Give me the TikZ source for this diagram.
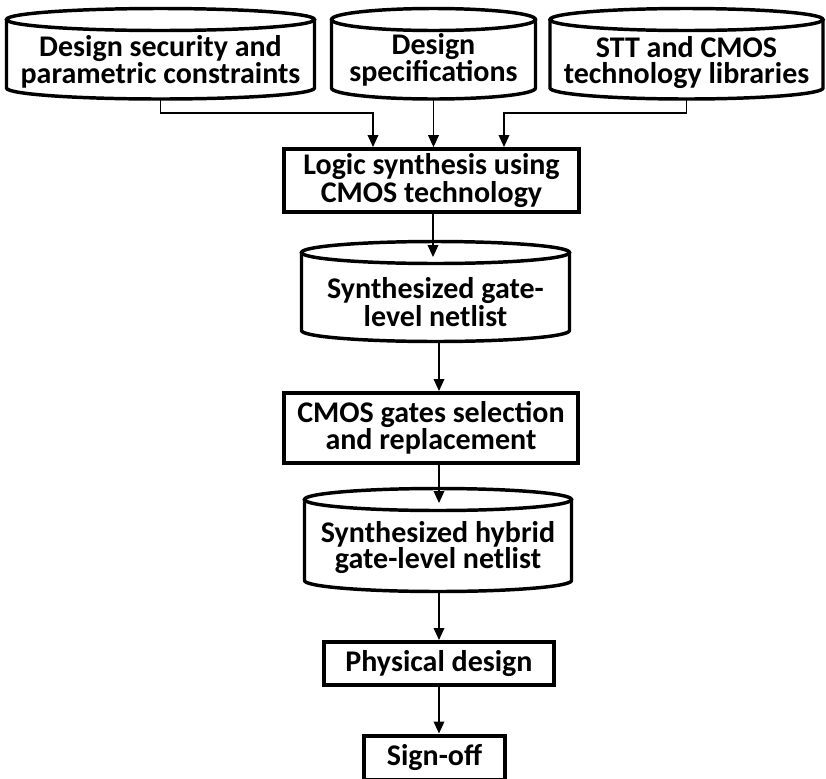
\documentclass[tikz,border=0pt]{standalone}
\usepackage{fontspec}
\setmainfont{Carlito}
\usetikzlibrary{arrows.meta}
\tikzset{
  txt/.style={align=center, inner sep=0pt, font=\bfseries\fontsize{22.5}{19.5}\selectfont},
  box/.style={txt, draw, line width=3pt, fill=white},
  cylline/.style={line width=2.6pt},
  conn/.style={line width=1.1pt, -{Triangle[length=9pt,width=8pt]}},
}
\newcommand\mycyl[6]{%
  \draw[cylline, fill=white] (#2-#5,#3) -- (#2-#5,#4)
     arc[start angle=180, end angle=0, x radius=#5, y radius=#6] -- (#2+#5,#3);
  \draw[cylline] (#2,#3) ellipse[x radius=#5, y radius=#6];
  \coordinate (#1top) at (#2,#3-#6);
  \coordinate (#1bot) at (#2,#4+#6);
}
\begin{document}
\begin{tikzpicture}[x=0.75pt, y=-0.75pt]
\useasboundingbox (0,0) rectangle (826,779);
\clip (0,0) rectangle (826,779);

% top cylinders
\mycyl{A}{160.5}{19.5}{88}{154}{11}
\mycyl{B}{433.5}{19.5}{88}{102}{11}
\mycyl{C}{686.5}{19.5}{88}{136.5}{11}
\node[txt] (a) at (160.5,62) {Design security and\\parametric constraints};
\node[txt] (b) at (433.5,60) {Design\\specifications};
\node[txt] (c) at (686.5,63) {STT and CMOS\\technology libraries};

% logic synthesis
\node[box, minimum width=221pt, minimum height=47pt] (l) at (431.5,180.5) {Logic synthesis using\\CMOS technology};

% cylinder D
\mycyl{D}{435.5}{252.5}{330.5}{134}{11}
\node[txt] (d) at (435.5,302) {Synthesized gate-\\level netlist};

% CMOS gates selection
\node[box, minimum width=220.5pt, minimum height=52.5pt] (s) at (431,428) {CMOS gates selection\\and replacement};

% cylinder E
\mycyl{E}{438}{499.5}{580.5}{133.5}{11}
\node[txt] (e) at (438,548) {Synthesized hybrid\\gate-level netlist};

% physical design
\node[box, minimum width=172.5pt, minimum height=32.25pt] (p) at (439,663.5) {Physical design};

% sign-off
\node[box, minimum width=105.75pt, minimum height=33pt] (o) at (434.5,757.5) {Sign-off};

% connectors
\coordinate (in1) at (373,147);
\coordinate (in3) at (504,147);
\draw[conn] (Abot) -- ++(0,14) -| (in1);
\draw[conn] (Bbot) -- (Bbot |- l.north);
\draw[conn] (Cbot) -- ++(0,14) -| (in3);

\coordinate (Din) at (433,257);
\draw[conn] (l.south -| Din) -- (Din);
\coordinate (Dout) at (439,343);
\draw[conn] (Dout) -- (Dout |- s.north);
\coordinate (Ein) at (439,503);
\draw[conn] (s.south -| Ein) -- (Ein);
\coordinate (Eout) at (439,593);
\draw[conn] (Eout) -- (Eout |- p.north);
\draw[conn] (p.south) -- (p.south |- o.north);
\end{tikzpicture}
\end{document}
